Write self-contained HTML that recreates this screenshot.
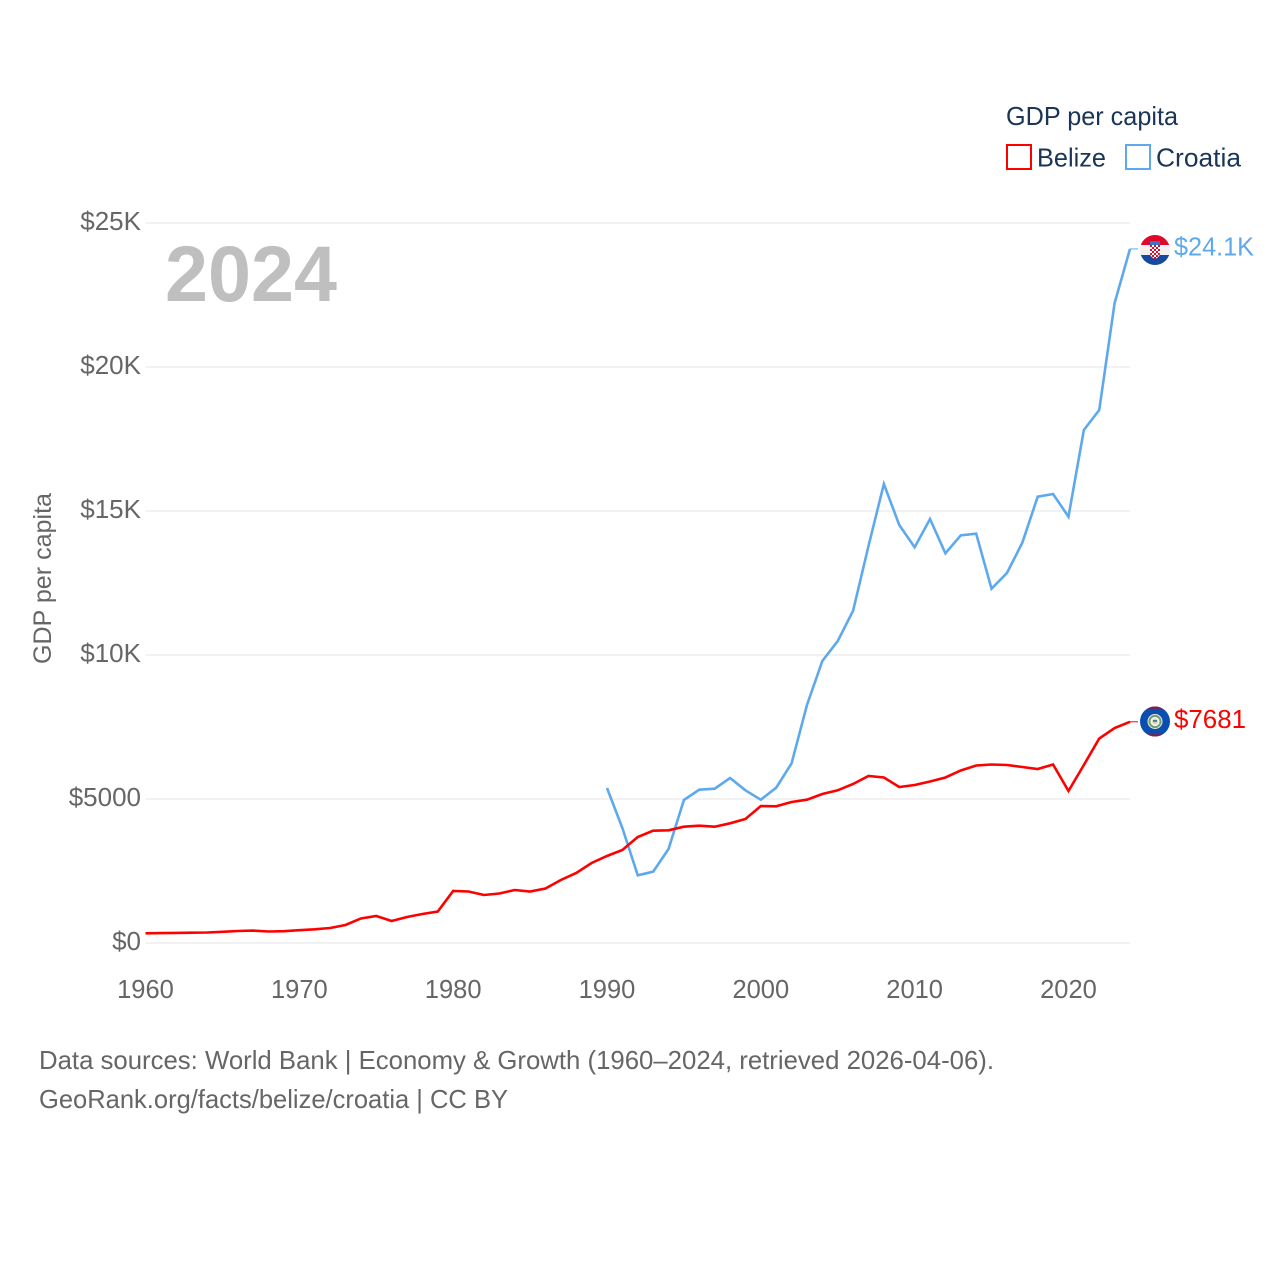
<!DOCTYPE html>
<html lang="en">
<head>
<meta charset="utf-8">
<title>GDP per capita: Belize and Croatia</title>
<style>
html,body{margin:0;padding:0;background:#fff;width:1280px;height:1280px;overflow:hidden}
svg{display:block}
text{font-family:"Liberation Sans",sans-serif}
</style>
</head>
<body>
<svg id="chart" width="1280" height="1280" viewBox="0 0 1280 1280" xmlns="http://www.w3.org/2000/svg">
  <defs>
    <clipPath id="flag-clip-hr"><circle cx="1155" cy="250" r="15"/></clipPath>
    <clipPath id="flag-clip-bz"><circle cx="1155" cy="721.5" r="15"/></clipPath>
    <pattern id="hr-checker" x="1150" y="245" width="4" height="4" patternUnits="userSpaceOnUse">
      <rect width="4" height="4" fill="#fff"/>
      <rect width="2" height="2" fill="#d8102c"/>
      <rect x="2" y="2" width="2" height="2" fill="#d8102c"/>
    </pattern>
  </defs>
  <g id="grid"></g>
  <g id="yticks"></g>
  <g id="xticks"></g>
  <text x="165" y="301" font-size="79" font-weight="700" fill="#bfbfbf" textLength="172" lengthAdjust="spacingAndGlyphs">2024</text>
  <text transform="translate(51,664) rotate(-90)" font-size="25" fill="#666" textLength="171" lengthAdjust="spacingAndGlyphs">GDP per capita</text>
  <g id="lines"></g>

  <g clip-path="url(#flag-clip-hr)">
    <rect x="1140" y="235" width="30" height="10" fill="#e2062c"/>
    <rect x="1140" y="245" width="30" height="10" fill="#f1f1f1"/>
    <rect x="1140" y="255" width="30" height="10" fill="#17499c"/>
    <rect x="1150" y="241" width="10" height="4" fill="#3d74c4"/>
    <path d="M1150 245H1160V253Q1160 257 1155 259Q1150 257 1150 253Z" fill="url(#hr-checker)"/>
  </g>
  <g clip-path="url(#flag-clip-bz)">
    <rect x="1140" y="706" width="30" height="31" fill="#0a4fb0"/>
    <rect x="1140" y="706" width="30" height="2.6" fill="#a3122c"/>
    <rect x="1140" y="734.4" width="30" height="2.6" fill="#a3122c"/>
    <circle cx="1155" cy="721.5" r="7.5" fill="#f4f4ee"/>
    <circle cx="1155" cy="721.5" r="5.6" fill="none" stroke="#6f9f6c" stroke-width="2"/>
    <circle cx="1155" cy="721.5" r="2.8" fill="#d9d2b0"/>
    <rect x="1153" y="720" width="4" height="1.8" fill="#3f7f90"/>
  </g>

  <text x="1174" y="255.5" font-size="26" fill="#5ea9ee" textLength="80" lengthAdjust="spacingAndGlyphs">$24.1K</text>
  <text x="1174" y="728" font-size="26" fill="#ff0000" textLength="72" lengthAdjust="spacingAndGlyphs">$7681</text>

  <text x="1006" y="125" font-size="26" fill="#1a3557" textLength="172" lengthAdjust="spacingAndGlyphs">GDP per capita</text>
  <rect x="1007" y="145" width="24" height="24" fill="#fff" stroke="#ff0000" stroke-width="2"/>
  <text x="1037" y="166.5" font-size="26" fill="#1a3557" textLength="69" lengthAdjust="spacingAndGlyphs">Belize</text>
  <rect x="1126" y="145" width="24" height="24" fill="#fff" stroke="#5ea9ee" stroke-width="2"/>
  <text x="1156" y="166.5" font-size="26" fill="#1a3557" textLength="85" lengthAdjust="spacingAndGlyphs">Croatia</text>

  <text x="39" y="1069" font-size="26" fill="#666" textLength="955" lengthAdjust="spacingAndGlyphs">Data sources: World Bank | Economy &amp; Growth (1960–2024, retrieved 2026-04-06).</text>
  <text x="39" y="1108" font-size="26" fill="#666" textLength="469" lengthAdjust="spacingAndGlyphs">GeoRank.org/facts/belize/croatia | CC BY</text>
</svg>
<script>
const belizeStartYear = 1960;
const croatiaStartYear = 1990;
const belizeValues = [337,344,351,358,365,389,417,431,399,410,444,476,521,625,851,938,764,903,1007,1094,1806,1788,1667,1719,1840,1788,1892,2188,2431,2778,3021,3229,3681,3899,3913,4038,4073,4038,4156,4306,4757,4747,4896,4976,5174,5302,5521,5799,5747,5417,5486,5608,5747,5990,6163,6198,6181,6111,6042,6198,5278,6181,7101,7465,7681];
const croatiaValues = [5382,3993,2351,2476,3264,4965,5323,5358,5729,5302,4976,5392,6240,8264,9792,10486,11538,13785,15938,14514,13740,14722,13531,14156,14212,12302,12847,13899,15497,15590,14802,17813,18507,22222,24100];
const yTickValues = [0,5000,10000,15000,20000,25000];
const yTickLabels = ['$0','$5000','$10K','$15K','$20K','$25K'];
const xTickValues = [1960,1970,1980,1990,2000,2010,2020];

const NS = 'http://www.w3.org/2000/svg';
function xScale(year){ return 145.5 + (year - 1960) * (1130 - 145.5) / 64; }
function yScale(v){ return 943 - v * (943 - 223) / 25000; }

const gridG = document.getElementById('grid');
const yG = document.getElementById('yticks');
const xG = document.getElementById('xticks');
const linesG = document.getElementById('lines');

yTickValues.forEach(function(v, i){
  const gl = document.createElementNS(NS, 'line');
  
  
  gl.setAttribute('x1', xScale(1960));
  gl.setAttribute('x2', xScale(2024));
  gl.setAttribute('y1', yScale(v));
  gl.setAttribute('y2', yScale(v));
  gl.setAttribute('stroke', '#eeeeee');
  gl.setAttribute('stroke-width', '1.6');
  gridG.appendChild(gl);
  const t = document.createElementNS(NS, 'text');
  
  
  t.setAttribute('x', 141);
  t.setAttribute('y', yScale(v) + 7);
  t.setAttribute('text-anchor', 'end');
  t.setAttribute('font-size', '26');
  t.setAttribute('fill', '#666');
  t.textContent = yTickLabels[i];
  yG.appendChild(t);
});

xTickValues.forEach(function(yr){
  const t = document.createElementNS(NS, 'text');
  
  
  t.setAttribute('x', xScale(yr));
  t.setAttribute('y', 998);
  t.setAttribute('text-anchor', 'middle');
  t.setAttribute('font-size', '25.5');
  t.setAttribute('fill', '#666');
  t.textContent = String(yr);
  xG.appendChild(t);
});

function pointsFor(values, startYear){
  return values.map(function(v, i){
    return xScale(startYear + i).toFixed(2) + ',' + yScale(v).toFixed(2);
  }).join(' ');
}

const croatiaLine = document.createElementNS(NS, 'polyline');


croatiaLine.setAttribute('points', pointsFor(croatiaValues, croatiaStartYear));
croatiaLine.setAttribute('fill', 'none');
croatiaLine.setAttribute('stroke', '#5ea9ee');
croatiaLine.setAttribute('stroke-width', '2.6');
linesG.appendChild(croatiaLine);

const belizeLine = document.createElementNS(NS, 'polyline');


belizeLine.setAttribute('points', pointsFor(belizeValues, belizeStartYear));
belizeLine.setAttribute('fill', 'none');
belizeLine.setAttribute('stroke', '#ff0000');
belizeLine.setAttribute('stroke-width', '2.6');
linesG.appendChild(belizeLine);

const croatiaLast = croatiaValues[croatiaValues.length - 1];
const croatiaTail = document.createElementNS(NS, 'line');


croatiaTail.setAttribute('x1', xScale(2024));
croatiaTail.setAttribute('x2', xScale(2024) + 8);
croatiaTail.setAttribute('y1', yScale(croatiaLast));
croatiaTail.setAttribute('y2', yScale(croatiaLast));
croatiaTail.setAttribute('stroke', '#5ea9ee');
croatiaTail.setAttribute('stroke-width', '1');
linesG.appendChild(croatiaTail);

const belizeLast = belizeValues[belizeValues.length - 1];
const belizeTail = document.createElementNS(NS, 'line');


belizeTail.setAttribute('x1', xScale(2024));
belizeTail.setAttribute('x2', xScale(2024) + 8);
belizeTail.setAttribute('y1', yScale(belizeLast));
belizeTail.setAttribute('y2', yScale(belizeLast));
belizeTail.setAttribute('stroke', '#ff0000');
belizeTail.setAttribute('stroke-width', '1');
linesG.appendChild(belizeTail);
</script>
</body>
</html>
